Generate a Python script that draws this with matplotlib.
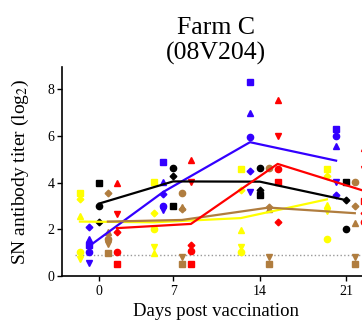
import numpy as np
import matplotlib
matplotlib.use("Agg")
import matplotlib.pyplot as plt

plt.rcParams["font.family"] = ["Liberation Serif", "DejaVu Serif"]
plt.rcParams["mathtext.fontset"] = "stix"

days = [0, 7, 14, 21]
day_pos = [0.93, 6.95, 14.0, 21.0]
lod = 0.9

# individual titers (log2) per group, one list per marker, values at day 0/7/14/21
yellow_pts = {"s": [3.57, 4.01, 4.58, 4.58], "D": [3.28, 2.71, 3.68, 4.28],
              "^": [2.58, 1.0, 1.97, 3.04], "v": [0.71, 1.25, 1.23, 2.78],
              "o": [1.03, 2.01, 1.04, 1.57]}
blue_pts = {"s": [1.33, 4.87, 8.3, 6.28], "^": [1.58, 4.01, 7.0, 5.57],
            "o": [1.04, 3.01, 5.97, 6.0], "D": [2.08, 3.51, 4.5, 3.48],
            "v": [0.54, 2.83, 3.61, 4.04]}
black_pts = {"s": [4.0, 3.01, 3.47, 4.01], "o": [3.01, 4.61, 4.61, 2.0],
             "D": [2.3, 4.3, 3.68, 3.25]}
brown_pts = {"D": [3.57, 2.85, 2.95, 3.01], "^": [1.87, 2.97, 2.86, 2.28],
             "o": [1.6, 3.57, 4.61, 4.01], "v": [1.35, 0.83, 0.83, 0.83],
             "s": [1.0, 0.5, 0.5, 0.51]}
red_pts = {"^": [3.97, 4.97, 7.54, 5.5], "v": [2.64, 4.01, 6.0, 4.6],
           "D": [1.9, 1.33, 2.3, 2.7], "o": [1.04, 1.07, 4.58, 2.3],
           "s": [0.5, 0.5, 4.01, 3.2]}

# group mean lines
yellow_mean = [2.33, 2.3, 2.48, 3.28]
blue_mean = [1.28, 3.6, 5.73, 4.94]
black_mean = [3.1, 4.05, 4.04, 3.25]
brown_mean = [2.33, 2.4, 2.93, 2.69]
red_mean = [2.05, 2.23, 4.8, 3.65]

groups = [
    (yellow_pts, yellow_mean, "#FFFF00", -1.55),
    (blue_pts, blue_mean, "#3300FF", -0.8),
    (black_pts, black_mean, "#000000", 0.0),
    (brown_pts, brown_mean, "#B07D3F", 0.72),
    (red_pts, red_mean, "#FF0000", 1.45),
]
msize = {"s": 4.3, "o": 4.5, "^": 4.8, "v": 4.8, "D": 3.4}

fig = plt.figure(figsize=(3.62, 3.2), dpi=100)
ax = fig.add_axes([62 / 362, 44 / 320, 314.7 / 362, 209 / 320])

ax.axhline(lod, xmin=0.04, xmax=1, color="#999999", ls=":", lw=1, zorder=1)

for pts, mean, col, off in groups:
    xs = np.array(day_pos) + off
    for m, vals in pts.items():
        ax.plot(xs, vals, ls="none", marker=m, ms=msize[m], color=col,
                mec=col, zorder=2)
for pts, mean, col, off in groups:
    xs = np.array(day_pos) + off
    ax.plot(xs, mean, color=col, lw=1.6, zorder=3)

ax.set_xlim(-2.08, 23.5)
ax.set_ylim(0, 8.95)
ax.set_xticks(day_pos)
ax.set_xticklabels([str(d) for d in days])
ax.set_yticks([0, 2, 4, 6, 8])
ax.tick_params(labelsize=10, length=3.5, width=1, pad=2)
ax.tick_params(axis="x", pad=3)
for s in ["top", "right"]:
    ax.spines[s].set_visible(False)
for s in ["left", "bottom"]:
    ax.spines[s].set_linewidth(1.2)

ax.set_ylabel("SN antibody titer (log$_2$)", fontsize=14)
ax.yaxis.set_label_coords(-0.1, 0.5)
ax.set_xlabel("Days post vaccination", fontsize=13.5)
ax.xaxis.set_label_coords((216 - 62) / 314.7, -0.128)
fig.text(216 / 362, 1 - 41 / 320, "Farm C\n(08V204)", ha="center", va="center",
         fontsize=18.5, linespacing=1.12)

fig.savefig("out.png", dpi=100)
